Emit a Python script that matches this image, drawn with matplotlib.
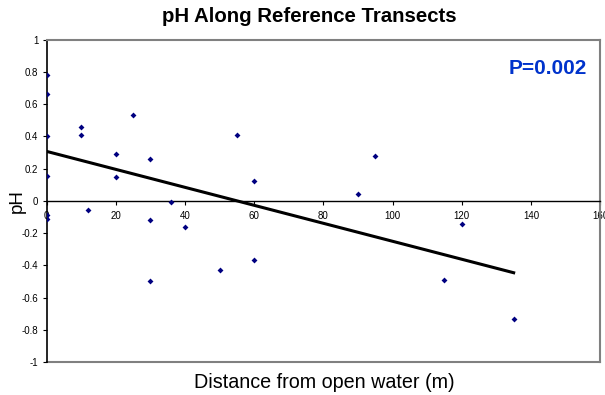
import matplotlib
matplotlib.use("Agg")
import matplotlib.pyplot as plt
import numpy as np

plt.rcParams['font.family'] = ['Liberation Sans', 'DejaVu Sans']

distance = [0, 0, 0, 0, 0, 0, 10, 10, 12, 20, 20, 25, 30, 30, 30, 36, 40, 50,
            55, 60, 60, 90, 95, 115, 120, 135]
ph = [0.78, 0.66, 0.40, 0.155, -0.09, -0.11, 0.46, 0.41, -0.055, 0.29, 0.15, 0.53,
      0.26, -0.12, -0.50, -0.005, -0.16, -0.43, 0.41, 0.125, -0.37, 0.045, 0.28,
      -0.49, -0.145, -0.735]
trend_x = [0, 135]
trend_y = [0.307, -0.446]

x_ticks = [0, 20, 40, 60, 80, 100, 120, 140, 160]
y_ticks = [-1, -0.8, -0.6, -0.4, -0.2, 0, 0.2, 0.4, 0.6, 0.8, 1]
y_labels = ['-1', '-0.8', '-0.6', '-0.4', '-0.2', '0', '0.2', '0.4', '0.6', '0.8', '1']

W, H = 605, 395
fig = plt.figure(figsize=(6.05, 3.95), dpi=100)
ax = fig.add_axes([0.077, 0.0835, 0.915, 0.816])

ax.plot(trend_x, trend_y, color='black', lw=2.2, zorder=2)
ax.scatter(distance, ph, marker='D', s=9, color='#000080', zorder=3, linewidths=0)

ax.set_xlim(0, 160)
ax.set_ylim(-1, 1)
ax.set_xticks(x_ticks)
ax.set_xticklabels([str(t) for t in x_ticks])
ax.set_yticks(y_ticks)
ax.set_yticklabels(y_labels)

ax.spines['bottom'].set_position(('data', 0))
ax.spines['bottom'].set_color('black')
ax.spines['bottom'].set_linewidth(1.0)
ax.spines['left'].set_color('black')
ax.spines['left'].set_linewidth(1.2)
for s in ['top', 'right']:
    ax.spines[s].set_color('#808080')
    ax.spines[s].set_linewidth(1.5)
ax.axhline(-1, color='#808080', lw=1.5, zorder=1, clip_on=False)

ax.tick_params(axis='x', direction='out', length=3, labelsize=7, pad=4, width=0.8)
ax.tick_params(axis='y', direction='out', length=3, labelsize=7, pad=3, width=0.8)

fig.text(17 / W, 1 - 201 / H, 'pH', rotation=90, ha='center', va='center', fontsize=13.5)
fig.text(324 / W, 1 - 382 / H, 'Distance from open water (m)', ha='center', va='center',
         fontsize=14.2)
fig.text(309 / W, 1 - 16 / H, 'pH Along Reference Transects', ha='center', va='center',
         fontsize=14.7, fontweight='bold')
ax.text(0.976, 0.91, 'P=0.002', transform=ax.transAxes, ha='right', va='center',
        fontsize=15, fontweight='bold', color='#0033CC')

fig.savefig('out.png', dpi=100)
